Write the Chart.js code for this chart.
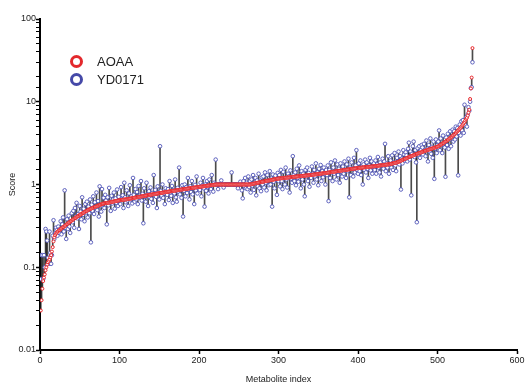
<!DOCTYPE html>
<html>
<head>
<meta charset="utf-8">
<title>Metabolite scores</title>
<script src="https://cdn.jsdelivr.net/npm/chart.js@4.4.0/dist/chart.umd.min.js"></script>
<style>
    html, body { margin: 0; padding: 0; background: #fff; }
    .wrap { position: relative; width: 529px; height: 385px; }
    .legend { position: absolute; left: 70px; top: 55px; font: 13px "Liberation Sans", Arial, sans-serif; color: #222; }
    .legend-item { height: 18px; line-height: 14px; white-space: nowrap; }
    .legend-dot { display: inline-block; width: 7px; height: 7px; border-radius: 50%; border: 3px solid; vertical-align: top; margin-right: 14px; }
</style>
</head>
<body>
<div class="wrap">
    <canvas id="scoreChart" width="529" height="385"></canvas>
    <div class="legend">
        <div class="legend-item"><span class="legend-dot" style="border-color:#e3282c"></span>AOAA</div>
        <div class="legend-item"><span class="legend-dot" style="border-color:#4549a8"></span>YD0171</div>
    </div>
</div>
<script>
// ========================================
// DATA (metabolite index = position + 1)
// ========================================
const aoaaScores = [
    0.030,0.040,0.055,0.068,0.075,0.082,0.092,0.100,0.108,0.115,0.120,0.125,0.132,0.140,0.155,0.175,0.205,0.230,0.245,0.255,
    0.262,0.268,0.274,0.280,0.285,0.290,0.295,0.300,0.305,0.310,0.315,0.320,0.326,0.332,0.338,0.344,0.350,0.356,0.362,0.368,
    0.374,0.380,0.386,0.392,0.398,0.404,0.410,0.416,0.422,0.428,0.434,0.440,0.446,0.452,0.458,0.464,0.470,0.476,0.482,0.488,
    0.495,0.500,0.505,0.510,0.515,0.520,0.525,0.530,0.535,0.540,0.545,0.550,0.555,0.560,0.565,0.570,0.575,0.580,0.585,0.590,
    0.592,0.594,0.596,0.598,0.600,0.603,0.606,0.609,0.612,0.615,0.618,0.621,0.624,0.627,0.630,0.633,0.636,0.639,0.642,0.645,
    0.647,0.649,0.651,0.653,0.655,0.657,0.659,0.661,0.663,0.665,0.668,0.671,0.674,0.677,0.680,0.683,0.686,0.689,0.692,0.695,
    0.698,0.701,0.704,0.707,0.710,0.713,0.716,0.719,0.722,0.725,0.728,0.731,0.734,0.737,0.740,0.743,0.746,0.749,0.752,0.755,
    0.758,0.761,0.764,0.767,0.770,0.773,0.776,0.779,0.782,0.785,0.788,0.791,0.794,0.797,0.800,0.803,0.806,0.809,0.812,0.815,
    0.818,0.821,0.824,0.827,0.830,0.833,0.836,0.839,0.842,0.845,0.848,0.851,0.854,0.857,0.860,0.863,0.866,0.869,0.872,0.875,
    0.878,0.881,0.884,0.887,0.890,0.893,0.896,0.899,0.902,0.905,0.908,0.911,0.914,0.917,0.920,0.923,0.926,0.929,0.932,0.935,
    0.938,0.941,0.944,0.947,0.950,0.953,0.956,0.959,0.962,0.965,0.968,0.971,0.974,0.977,0.980,0.983,0.986,0.989,0.992,0.995,
    1.0,1.0,1.0,1.0,1.0,1.0,1.0,1.0,1.0,1.0,1.0,1.0,1.0,1.0,1.0,1.0,1.0,1.0,1.0,1.0,
    1.0,1.0,1.0,1.0,1.0,1.0,1.0,1.0,1.0,1.0,1.0,1.0,1.0,1.0,1.0,1.0,1.0,1.0,1.0,1.0,
    1.0,1.0,1.0,1.0,1.005,1.01,1.015,1.02,1.025,1.03,1.035,1.04,1.045,1.05,1.055,1.06,1.065,1.07,1.075,1.08,
    1.085,1.09,1.095,1.10,1.105,1.11,1.115,1.12,1.125,1.13,1.135,1.14,1.145,1.15,1.155,1.16,1.165,1.17,1.175,1.18,
    1.183,1.186,1.189,1.192,1.195,1.198,1.201,1.204,1.207,1.210,1.213,1.216,1.219,1.222,1.225,1.228,1.231,1.234,1.237,1.240,
    1.243,1.246,1.249,1.252,1.255,1.258,1.261,1.264,1.267,1.270,1.273,1.276,1.279,1.282,1.285,1.288,1.291,1.294,1.297,1.300,
    1.304,1.308,1.312,1.316,1.320,1.324,1.328,1.332,1.336,1.340,1.344,1.348,1.352,1.356,1.360,1.364,1.368,1.372,1.376,1.380,
    1.385,1.390,1.395,1.400,1.405,1.410,1.415,1.420,1.425,1.430,1.435,1.440,1.445,1.450,1.455,1.460,1.465,1.470,1.475,1.480,
    1.485,1.490,1.495,1.500,1.505,1.510,1.515,1.520,1.525,1.530,1.535,1.540,1.545,1.550,1.555,1.560,1.565,1.570,1.575,1.580,
    1.584,1.588,1.592,1.596,1.600,1.604,1.608,1.612,1.616,1.620,1.624,1.628,1.632,1.636,1.640,1.644,1.648,1.652,1.656,1.660,
    1.665,1.670,1.675,1.680,1.685,1.690,1.695,1.700,1.705,1.710,1.715,1.720,1.725,1.730,1.735,1.740,1.745,1.750,1.755,1.760,
    1.77,1.78,1.79,1.80,1.81,1.82,1.83,1.84,1.85,1.86,1.88,1.90,1.92,1.94,1.96,1.98,2.00,2.02,2.04,2.06,
    2.08,2.10,2.12,2.14,2.16,2.18,2.20,2.22,2.24,2.26,2.28,2.30,2.32,2.34,2.36,2.38,2.40,2.42,2.44,2.46,
    2.48,2.50,2.52,2.54,2.56,2.58,2.60,2.62,2.64,2.66,2.68,2.70,2.72,2.74,2.76,2.78,2.80,2.82,2.84,2.86,
    2.90,2.94,2.98,3.02,3.06,3.10,3.15,3.20,3.25,3.30,3.35,3.40,3.46,3.52,3.58,3.64,3.70,3.78,3.86,3.94,
    4.02,4.10,4.20,4.30,4.40,4.50,4.62,4.74,4.86,5.00,5.15,5.30,5.50,5.70,5.95,6.20,6.40,6.80,7.40,8.0,
    10.8,14.5,19.6,44.5
];

const yd0171Scores = [
    0.072,0.14,0.14,0.072,0.14,0.10,0.29,0.27,0.21,0.13,0.11,0.27,0.15,0.11,0.14,0.24,0.37,0.22,0.26,0.30,
    0.28,0.24,0.31,0.26,0.29,0.36,0.25,0.33,0.40,0.27,0.85,0.30,0.22,0.38,0.29,0.42,0.31,0.26,0.36,0.45,
    0.35,0.48,0.30,0.52,0.41,0.60,0.39,0.44,0.29,0.55,0.47,0.38,0.70,0.43,0.51,0.36,0.58,0.46,0.62,0.40,
    0.54,0.45,0.66,0.20,0.57,0.48,0.72,0.44,0.61,0.52,0.80,0.49,0.63,0.41,0.95,0.55,0.47,0.88,0.58,0.69,
    0.52,0.75,0.64,0.33,0.70,0.56,0.91,0.62,0.48,0.73,0.59,0.66,0.80,0.51,0.68,0.60,0.87,0.55,0.71,0.63,
    0.58,0.93,0.67,0.74,0.52,1.05,0.70,0.61,0.85,0.64,0.55,0.78,0.98,0.66,0.72,0.59,1.2,0.75,0.62,0.88,
    0.66,0.81,0.58,0.96,0.73,0.69,1.1,0.64,0.77,0.34,0.90,0.71,0.62,1.05,0.76,0.55,0.83,0.70,0.92,0.67,
    0.79,0.60,1.3,0.74,0.86,0.71,0.52,0.95,0.80,0.66,2.9,0.84,0.73,1.0,0.69,0.78,0.58,0.90,0.82,0.75,
    0.88,0.65,1.1,0.80,0.73,0.96,0.60,0.85,0.78,1.15,0.70,0.62,0.91,0.82,1.6,0.76,0.86,0.69,0.98,0.41,
    0.84,1.0,0.72,0.93,0.79,1.2,0.87,0.66,0.95,0.81,1.1,0.76,0.90,0.58,0.99,0.85,1.25,0.78,0.92,0.88,
    0.86,1.05,0.72,0.97,1.2,0.90,0.54,1.0,0.84,1.1,0.93,0.78,1.15,0.96,0.88,1.3,0.99,0.82,1.05,1.0,
    2.0,1.0,1.0,0.88,1.0,1.0,1.0,1.12,1.0,1.0,0.92,1.0,1.0,1.0,1.0,1.0,1.0,1.0,1.0,1.0,
    1.4,1.0,1.0,1.0,1.0,1.0,1.0,1.0,0.9,1.0,1.0,1.08,1.0,0.85,0.68,1.1,0.95,1.2,0.9,1.05,
    0.88,1.25,0.93,1.1,0.8,1.15,0.97,1.3,0.86,1.05,1.2,0.74,1.12,0.95,1.35,0.9,1.08,0.83,1.22,1.0,
    1.25,0.92,1.4,1.05,0.85,1.3,1.12,0.98,1.45,1.0,1.18,0.54,1.32,1.08,0.9,1.28,1.15,0.75,1.38,1.1,
    1.3,0.95,1.5,1.1,0.88,1.42,1.2,1.0,1.6,1.15,0.92,1.35,1.25,0.8,1.48,1.18,1.05,2.2,1.3,1.1,
    1.4,0.98,1.55,1.2,1.08,1.7,1.28,0.9,1.45,1.15,1.35,1.0,0.72,1.5,1.25,1.6,1.1,1.38,0.94,1.3,
    1.2,1.65,1.35,1.05,1.5,1.25,1.8,1.15,1.4,0.98,1.55,1.3,1.72,1.1,1.45,1.22,1.6,1.35,1.0,1.5,
    1.3,1.7,0.63,1.5,1.2,1.85,1.4,1.1,1.6,1.35,1.95,1.45,1.15,1.75,1.3,1.55,1.05,1.8,1.42,1.25,
    1.65,1.35,1.9,1.5,1.2,1.75,1.45,2.05,0.70,1.6,1.3,1.85,1.55,1.25,2.1,1.4,1.7,2.6,1.5,1.35,
    1.8,1.45,1.95,1.3,1.65,1.0,1.75,1.5,2.0,1.4,1.85,1.55,1.2,1.7,2.1,1.48,1.9,1.35,1.62,1.8,
    1.5,1.95,1.35,1.75,2.15,1.6,1.4,1.85,1.25,1.7,2.05,1.55,1.9,3.1,1.45,1.8,1.6,2.2,1.35,1.75,
    1.95,1.6,2.25,1.5,1.85,2.4,1.7,1.45,2.1,1.9,2.5,1.75,2.2,0.87,2.05,1.8,2.6,2.3,1.95,2.45,
    2.25,1.9,2.7,3.2,2.0,2.5,0.74,2.35,2.9,3.3,2.15,2.6,1.85,0.35,2.75,2.3,2.9,2.1,2.6,3.0,
    2.8,2.3,3.1,2.6,2.2,3.4,2.7,1.9,3.0,2.5,3.6,2.35,2.85,2.1,3.3,1.17,2.7,3.5,2.4,3.0,
    3.3,4.5,2.6,3.6,3.0,2.4,3.9,3.2,2.8,1.24,3.7,3.0,4.1,2.7,3.5,4.4,2.9,3.8,4.6,3.3,
    4.4,3.5,5.0,3.8,4.8,1.29,4.2,5.3,3.9,5.8,4.5,6.0,4.2,9.2,5.2,6.5,5.0,7.0,8.6,7.8,
    10.0,14.6,15.0,30.0
];

const xTickLabels = ['0', '100', '200', '300', '400', '500', '600'];
const yTickLabels = ['0.01', '0.1', '1', '10', '100'];

// ========================================
// CHART
// ========================================
Chart.defaults.font.family = '"Liberation Sans", Arial, sans-serif';
Chart.defaults.color = '#222';

function initializeScoreChart() {
    const ctx = document.getElementById('scoreChart');

    const aoaaPoints = aoaaScores.map((v, i) => ({ x: i + 1, y: v }));
    const ydPoints = yd0171Scores.map((v, i) => ({ x: i + 1, y: v }));
    // floating bars = the connector line between the two scores of a metabolite
    const connectors = aoaaScores.map((v, i) => ({ x: i + 1, y: [v, yd0171Scores[i]] }));

    new Chart(ctx, {
        type: 'scatter',
        data: {
            datasets: [
                {
                    type: 'bar',
                    label: 'diff',
                    data: connectors,
                    backgroundColor: 'rgba(30, 30, 30, 0.8)',
                    barThickness: 1,
                    grouped: false,
                    order: 3
                },
                {
                    label: 'YD0171',
                    data: ydPoints,
                    pointRadius: 1.8,
                    pointBorderWidth: 0.9,
                    borderColor: '#4f54b8',
                    backgroundColor: '#ffffff',
                    order: 2
                },
                {
                    label: 'AOAA',
                    data: aoaaPoints,
                    pointRadius: 1.5,
                    pointBorderWidth: 1,
                    borderColor: '#e8262b',
                    backgroundColor: '#ffffff',
                    order: 1
                }
            ]
        },
        options: {
            responsive: false,
            animation: false,
            layout: { padding: { top: 19, right: 12, left: 0, bottom: 0 } },
            plugins: {
                legend: { display: false },
                tooltip: { enabled: false }
            },
            scales: {
                x: {
                    type: 'linear',
                    min: 0,
                    max: 600,
                    offset: false,
                    afterFit: (scale) => { scale.height = 35; },
                    border: { display: true, color: '#000', width: 2 },
                    grid: { drawOnChartArea: false, offset: false, tickLength: 4, tickColor: '#000', tickWidth: 1.5 },
                    ticks: {
                        stepSize: 100,
                        padding: 1,
                        maxRotation: 0,
                        font: { size: 9 },
                        callback: (value) => xTickLabels[value / 100]
                    },
                    title: {
                        display: true,
                        text: 'Metabolite index',
                        font: { size: 9 },
                        padding: { top: 0, bottom: 0 }
                    }
                },
                y: {
                    type: 'logarithmic',
                    min: 0.01,
                    max: 100,
                    afterFit: (scale) => { scale.width = 40; },
                    border: { display: true, color: '#000', width: 2 },
                    grid: {
                        drawOnChartArea: false,
                        tickLength: 4,
                        tickColor: '#000',
                        tickWidth: (c) => (c.tick && c.tick.major ? 1.5 : 1)
                    },
                    ticks: {
                        autoSkip: false,
                        padding: 0,
                        font: { size: 9 },
                        major: { enabled: true },
                        callback: function(value) {
                            const label = yTickLabels.find(l => Math.abs(parseFloat(l) - value) < value * 1e-6);
                            return label || '';
                        }
                    },
                    title: {
                        display: true,
                        text: 'Score',
                        font: { size: 9 },
                        padding: { top: 7, bottom: 0 }
                    }
                }
            }
        }
    });
}

initializeScoreChart();
</script>
</body>
</html>
